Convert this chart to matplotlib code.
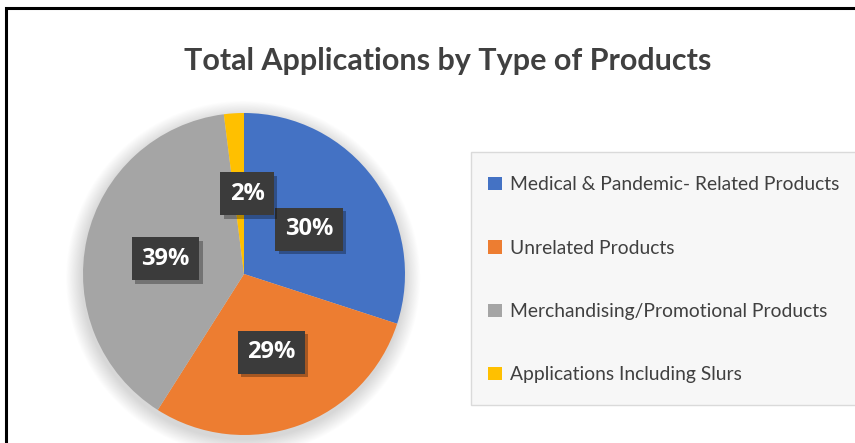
import matplotlib
matplotlib.use("Agg")
import matplotlib.pyplot as plt
from matplotlib.patches import Rectangle, Circle, Patch
from matplotlib.lines import Line2D
import matplotlib.patheffects as pe

categories = ["Medical & Pandemic- Related Products", "Unrelated Products",
              "Merchandising/Promotional Products", "Applications Including Slurs"]
values = [30, 29, 39, 2]
colors = ["#4472C4", "#ED7D31", "#A5A5A5", "#FFC000"]
title = "Total Applications by Type of Products"

W, H = 855, 443
fig = plt.figure(figsize=(W / 100, H / 100), dpi=100)
fig.patch.set_facecolor("white")

# outer frame (left + top visible)
fig.add_artist(Line2D([6 / W, 6 / W, 1.0], [0.0, 1 - 8 / H, 1 - 8 / H],
                      transform=fig.transFigure, color="black", lw=2.2,
                      solid_joinstyle="miter"))

fig.text(448 / W, 1 - 61 / H, title, ha="center", va="center",
         fontsize=22, fontweight="bold", color="#404040", family="Lato")

cx, cy, r = 244, 443 - 274, 161
ax = fig.add_axes([(cx - r) / W, (cy - r) / H, 2 * r / W, 2 * r / H])
ax.set_xlim(-1, 1)
ax.set_ylim(-1, 1)
ax.axis("off")

# soft shadow
for i in range(20):
    rr = 1.0 + 0.005 * (i + 1)
    ax.add_patch(Circle((-0.005, -0.025), rr, color="black", alpha=0.008,
                        clip_on=False, zorder=0, lw=0))

wedges, texts, autotexts = ax.pie(values, colors=colors, startangle=90,
                                  counterclock=False, radius=1.0,
                                  autopct="%d%%", pctdistance=0.5,
                                  wedgeprops=dict(lw=0), frame=False)
ax.set_xlim(-1, 1)
ax.set_ylim(-1, 1)

for t in autotexts:
    t.set_color("white")
    t.set_fontsize(17)
    t.set_fontweight("bold")
    t.set_family("Open Sans")
    t.set_bbox(dict(boxstyle="square,pad=0.4", fc="#3b3b3b", ec="none"))
    t.get_bbox_patch().set_path_effects(
        [pe.SimplePatchShadow(offset=(2.5, -2.5), shadow_rgbFace="black", alpha=0.3),
         pe.Normal()])
# nudge the 2% label slightly as in reference
x, y = autotexts[3].get_position()
autotexts[3].set_position((x + 0.05, y))
for t in autotexts[:3]:
    x, y = t.get_position()
    t.set_position((x, y - 0.015))

# legend background
fig.add_artist(Rectangle((471 / W, 1 - 405 / H), (W - 471) / W + 0.01, 253 / H,
                         transform=fig.transFigure, fc="#F7F7F7", ec="#DADADA", lw=1))

handles = [Patch(fc=c, ec="none") for c in colors]
leg = fig.legend(handles, categories, loc="upper left",
                 bbox_to_anchor=(471 / W, 1 - 159 / H),
                 frameon=False,
                 handlelength=0.7, handleheight=0.7, handletextpad=0.4,
                 labelspacing=2.4, prop=dict(family="Lato", size=13.9))
for t in leg.get_texts():
    t.set_color("#404040")

fig.savefig("out.png", dpi=100, facecolor="white")
